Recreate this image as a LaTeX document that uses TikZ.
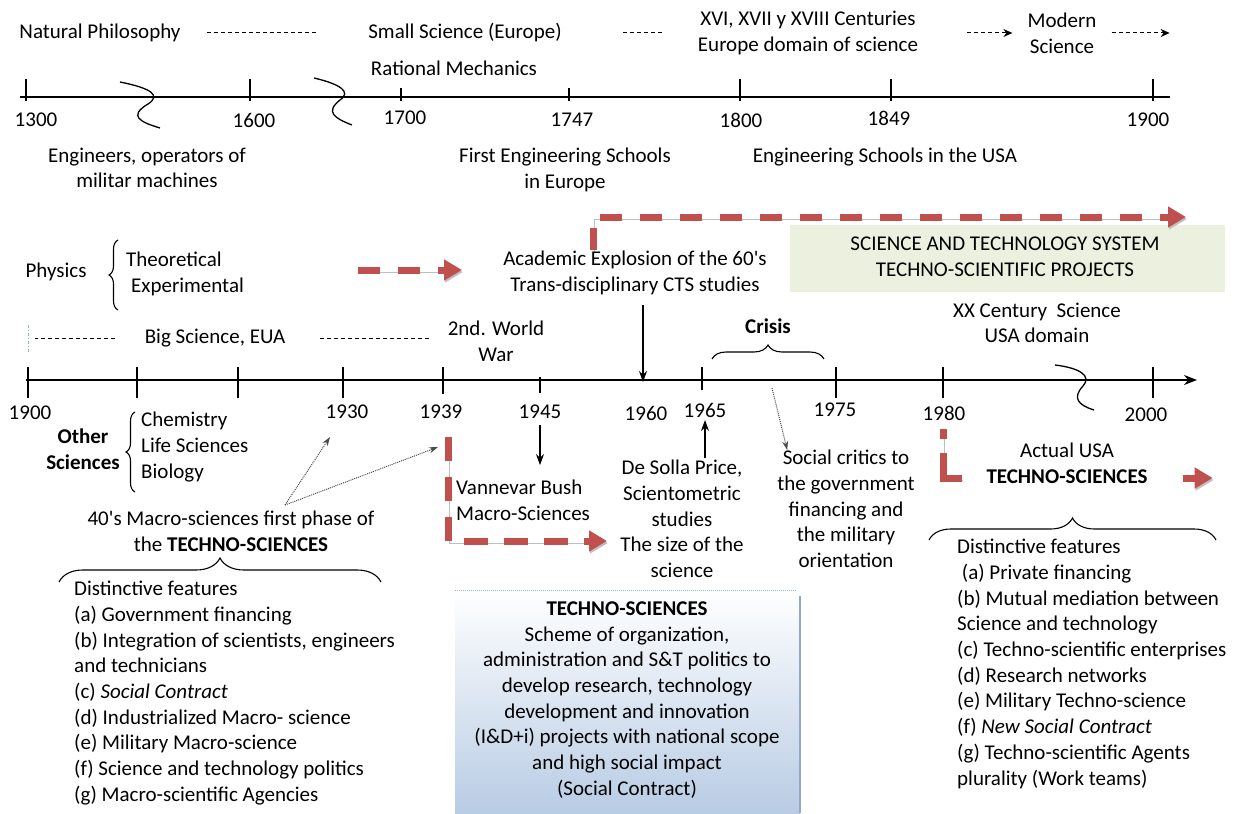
\documentclass[tikz,border=0pt]{standalone}
\usepackage{fontspec}
\setmainfont{Carlito}
\usetikzlibrary{arrows.meta,decorations.pathreplacing}
\definecolor{redline}{RGB}{192,80,77}
\definecolor{greenbox}{RGB}{235,241,222}
\definecolor{bluebox}{RGB}{184,204,228}
\definecolor{blueedge}{RGB}{149,179,215}
\newcommand{\txt}{\fontsize{21}{25.7}\selectfont}
\tikzset{
  every node/.style={font=\txt, inner sep=0pt},
  axis/.style={line width=1.5pt},
  blk/.style={line width=1.2pt,-{Stealth[length=11pt,width=8pt]}},
  dotarrow/.style={densely dotted, line width=1pt, black!70, -{Stealth[length=9pt,width=6pt]}},
  thindash/.style={dash pattern=on 4pt off 3pt, line width=1pt},
  dasharrow/.style={thindash, -{Stealth[length=9pt,width=8pt]}},
  redpath/.style={line width=7pt, redline, dash pattern=on 22pt off 18pt,
    preaction={draw=black!25, transform canvas={shift={(1pt,-2pt)}}}},
  redarrow/.style={redpath, -{Triangle[length=18pt,width=20pt]}},
  bracedec/.style={decorate, decoration={brace, amplitude=#1}, line width=1.1pt},
  squiggle/.style={line width=1.3pt},
}
\begin{document}
\begin{tikzpicture}[x=1pt,y=-1pt]
\useasboundingbox (0,0) rectangle (1238,813);

% ---- upper time line
\node (natphil) at (100,33) {Natural Philosophy};
\node (smallsci) at (465,33) {Small Science (Europe)};
\node[align=center] (centuries) at (808,33) {XVI, XVII y XVIII Centuries\\Europe domain of science};
\node[align=center] (modern) at (1062,33) {Modern\\Science};
\node (rational) at (454,68) {Rational Mechanics};
\draw[thindash] (natphil.east) ++(26,0) -- ++(110,0);
\draw[thindash] (smallsci.east) ++(61,0) -- ++(39,0);
\draw[dasharrow] (modern.west) ++(-60,0) -- ++(45,0);
\draw[dasharrow] (modern.east) ++(15,0) -- ++(58,0);

\draw[axis] (20,97) -- (1170,97);
\foreach \x in {26,250,740,891,1153} \draw[axis] (\x,79) -- (\x,101);
\foreach \x in {401,569} \draw[axis] (\x,88) -- (\x,101);
\foreach \x/\y/\yr in {36/120/1300,254/120/1600,405/118/1700,572/120/1747,741/120/1800,889/118/1849,1148/120/1900}
  \node (y\yr) at (\x,\y) {\yr};
\draw[squiggle] (120,82) .. controls (150,88) and (162,95) .. (148,104) .. controls (128,116) and (140,122) .. (160,128);
\draw[squiggle] (314,78) .. controls (340,84) and (352,92) .. (340,100) .. controls (325,112) and (334,118) .. (352,125);

\node[align=center] (engineers) at (147,168) {Engineers, operators of\\militar machines};
\node[align=center] (firstschools) at (565,170) {First Engineering Schools\\in Europe};
\node (usaschools) at (885,157) {Engineering Schools in the USA};

% ---- middle band
\fill[greenbox] (790,225) rectangle (1225,292);
\node[align=center] (stsys) at (1005,257) {SCIENCE AND TECHNOLOGY SYSTEM\\TECHNO-SCIENTIFIC PROJECTS};
\draw[redarrow] (593,250) -- (593,217) -- (1186,217);

\node (physics) at (56,272) {Physics};
\draw[bracedec=9pt] (118,310) -- (118,240);
\node[align=left, anchor=west] (physkind) at (126,274) {Theoretical\\\hspace*{5pt}Experimental};
\draw[redarrow] (358,270) -- (462,270);
\node[align=center] (explosion) at (635,273) {Academic Explosion of the 60\textquotesingle s\\Trans-disciplinary CTS studies};
\node[align=center] (xxcentury) at (1037,323) {XX Century\ \ Science\\USA domain};

\draw[blueedge, dash pattern=on 3pt off 2pt on 1pt off 2pt, line width=0.9pt] (28,325) -- (28,352);
\node (bigsci) at (215,338) {Big Science, EUA};
\draw[thindash] (bigsci.west) ++(-30,0) -- ++(-80,0);
\draw[thindash] (bigsci.east) ++(35,0) -- ++(110,0);
\node[align=center] (worldwar) at (496,341) {2nd. World\\War};
\node[font=\txt\bfseries] (crisis) at (768,326) {Crisis};
\draw[bracedec=14pt] (712,359) -- (824,359);

% ---- lower time line
\draw[axis,-{Stealth[length=13pt,width=10pt]}] (26,380) -- (1197,380);
\foreach \x in {28,137,238,343,836,943,1153} \draw[axis] (\x,367) -- (\x,398);
\draw[axis] (443,367) -- (443,394);
\draw[axis] (540,377) -- (540,393);
\draw[axis] (702,367) -- (702,390);
\foreach \x/\y/\yr in {30/413/1900,347/412/1930,441/412/1939,540/412/1945,646/413/1960,705/410/1965,835/410/1975,944/413/1980,1146/415/2000}
  \node (z\yr) at (\x,\y) {\yr};
\coordinate (t1960) at (643,382);
\draw[blk] (explosion.south -| t1960) ++(0,10) -- (t1960);
\draw[squiggle] (1055,365) .. controls (1080,368) and (1092,376) .. (1083,386) .. controls (1072,398) and (1078,405) .. (1094,410);

\node[align=center, font=\txt\bfseries] (othersci) at (83,449) {Other\\Sciences};
\draw[bracedec=9pt] (135,492) -- (135,412);
\node[align=left, anchor=west] (chem) at (141,447) {Chemistry\\Life Sciences\\Biology};

\node[align=center] (macro) at (231,531) {40\textquotesingle s Macro-sciences first phase of\\the \textbf{TECHNO-SCIENCES}};
\coordinate (macrotop) at (285,505);
\coordinate (a1930) at (330,437);
\coordinate (a1939) at (438,447);
\draw[dotarrow] (macrotop) -- (a1930);
\draw[dotarrow] (macrotop) -- (a1939);

\draw[redarrow, dash pattern=on 24pt off 16pt] (448,437) -- (448,541) -- (607,541);
\node[align=left, anchor=west] (vannevar) at (456,500) {Vannevar Bush\\Macro-Sciences};
\draw[blk] (z1945.south) ++(0,6) -- ++(0,40);

\node[align=center] (desolla) at (682,519) {De Solla Price,\\Scientometric\\studies\\The size of the\\science};
\draw[blk] (desolla.north -| z1965) ++(0,-2) -- ++(0,-38);
\coordinate (crisisfoot) at (772,388);
\node[align=center] (social) at (846,509) {Social critics to\\the government\\financing and\\the military\\orientation};
\draw[dotarrow] (crisisfoot) -- ([xshift=10pt]social.north west);

\draw[redpath, dash pattern=on 10pt off 14pt on 60pt off 10pt] (943,429) -- (943,478) -- (962,478);
\node[align=center] (actual) at (1067,463) {Actual USA\\\textbf{TECHNO-SCIENCES}};
\draw[redarrow] (actual.east) ++(35,15) -- ++(30,0);

% ---- feature lists
\draw[bracedec=24pt] (59,582) -- (381,582);
\node[align=left, anchor=north west] (feat1) at (74,581) {Distinctive features\\
(a) Government financing\\
(b) Integration of scientists, engineers\\
and technicians\\
(c) \textit{Social Contract}\\
(d) Industrialized Macro- science\\
(e) Military Macro-science\\
(f) Science and technology politics\\
(g) Macro-scientific Agencies};

\draw[bracedec=22pt] (929,540) -- (1216,540);
\node[align=left, anchor=north west] (feat2) at (957,539) {Distinctive features\\
\ (a) Private financing\\
(b) Mutual mediation between\\
Science and technology\\
(c) Techno-scientific enterprises\\
(d) Research networks\\
(e) Military Techno-science\\
(f) \textit{New Social Contract}\\
(g) Techno-scientific Agents\\
plurality (Work teams)};

% ---- techno-sciences box
\shade[top color=white, bottom color=bluebox] (455,590) rectangle (800,813);
\draw[blueedge, densely dotted, line width=1pt] (455,590) -- (797,590);
\draw[blueedge!80!gray, line width=1.3pt] (800,596) -- (800,813);
\node[align=center] (technobox) at (627,700) {\textbf{TECHNO-SCIENCES}\\
Scheme of organization,\\
administration and S\&T politics to\\
develop research, technology\\
development and innovation\\
(I\&D+i) projects with national scope\\
and high social impact\\
(Social Contract)};
\end{tikzpicture}
\end{document}
